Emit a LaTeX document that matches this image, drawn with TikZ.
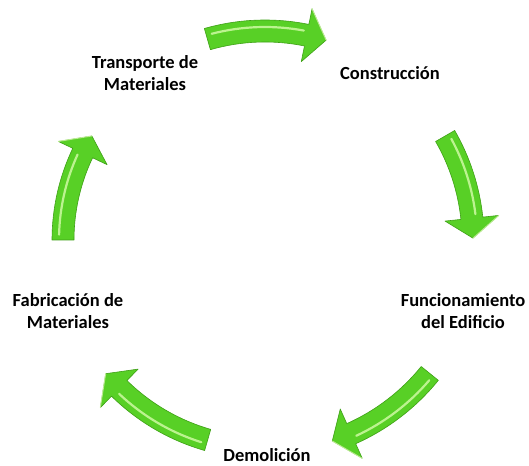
\documentclass[tikz,border=0pt]{standalone}
\usepackage{fontspec}
\setmainfont{Carlito}
\definecolor{arrowgreen}{RGB}{88,208,38}
\definecolor{arrowdark}{RGB}{62,160,22}
\definecolor{arrowlight}{RGB}{222,255,180}
\tikzset{
  arrowbody/.style={fill=arrowgreen, draw=arrowdark, line width=0.6pt, line join=round},
  arrowshine/.style={draw=arrowlight, line width=2.2pt, line cap=round, opacity=0.75},
  label/.style={font=\fontsize{18.5}{22}\selectfont\bfseries, align=center, text=black, inner sep=0pt}
}
% #1 tail angle, #2 tip angle, #3 radius of arrow axis
\newcommand{\cyclearrow}[3]{%
  \pgfmathsetmacro{\hb}{#2+5.5}%
  \pgfmathsetmacro{\ro}{#3+11}%
  \pgfmathsetmacro{\ri}{#3-11}%
  \pgfmathsetmacro{\rho}{#3+27}%
  \pgfmathsetmacro{\rhi}{#3-27}%
  \pgfmathsetmacro{\rs}{#3+4}%
  \pgfmathsetmacro{\sa}{#1-1.5}%
  \pgfmathsetmacro{\sb}{\hb+1}%
  \fill[arrowbody] ([shift={(265pt,225pt)}]#1:\ro pt)
     arc[start angle=#1, end angle=\hb, radius=\ro pt]
     -- ([shift={(265pt,225pt)}]\hb:\rho pt)
     -- ([shift={(265pt,225pt)}]#2:#3pt)
     -- ([shift={(265pt,225pt)}]\hb:\rhi pt)
     -- ([shift={(265pt,225pt)}]\hb:\ri pt)
     arc[start angle=\hb, end angle=#1, radius=\ri pt] -- cycle;
  \draw[arrowshine] ([shift={(265pt,225pt)}]\sa:\rs pt)
     arc[start angle=\sa, end angle=\sb, radius=\rs pt];
  \draw[arrowshine, line width=1pt] ([shift={(265pt,225pt)}]\hb:\rho pt)
     -- ([shift={(265pt,225pt)}]#2:#3pt);
}
\begin{document}
\begin{tikzpicture}[x=1pt,y=1pt]
\useasboundingbox (0,0) rectangle (529,465);
\fill[white] (0,0) rectangle (529,465);

\cyclearrow{106}{73}{209}
\cyclearrow{30}{0.5}{208}
\cyclearrow{-39}{-71.5}{212}
\cyclearrow{-106}{-140}{208}
\cyclearrow{180}{149}{202}

\node[label] (trans) at (145,392) {Transporte de\\Materiales};
\node[label] (cons)  at (390,392) {Construcción};
\node[label] (func)  at (463,154) {Funcionamiento\\del Edificio};
\node[label, anchor=base] (dem) at (267,4) {Demolición};
\node[label] (fab)   at (68,154)  {Fabricación de\\Materiales};
\end{tikzpicture}
\end{document}
